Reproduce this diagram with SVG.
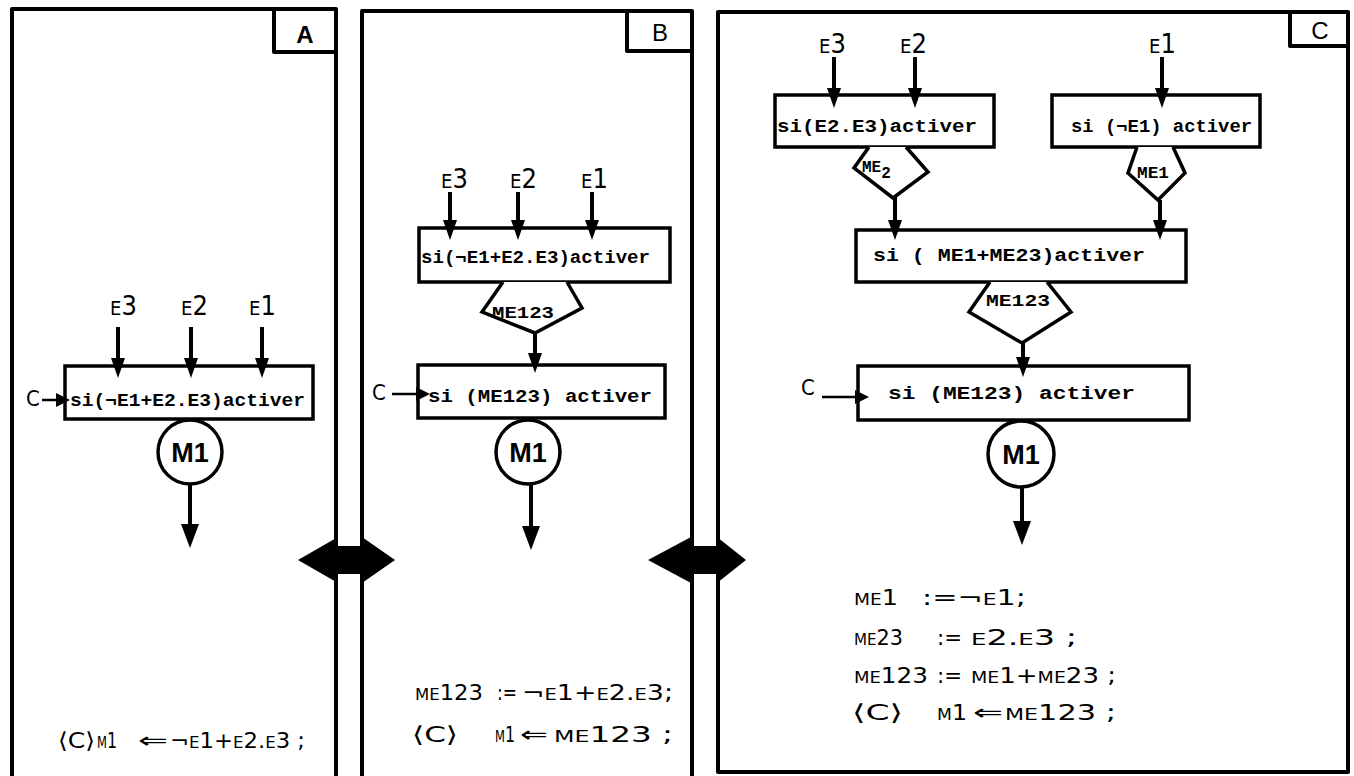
<svg xmlns="http://www.w3.org/2000/svg" width="1354" height="776" viewBox="0 0 1354 776">
  <style>
    .frame { fill: none; stroke: #000; stroke-width: 4; stroke-linejoin: round; }
    .box { fill: #fff; stroke: #000; stroke-width: 3.5; }
    .gate { fill: #fff; stroke: #000; stroke-width: 3.5; stroke-linejoin: miter; }
    .ring { fill: #fff; stroke: #000; stroke-width: 3.5; }
    .wire { fill: none; stroke: #000; stroke-width: 4; }
    .in { marker-end: url(#head); }
    .out { marker-end: url(#headBig); }
    .ctl { fill: none; stroke: #000; stroke-width: 2.5; marker-end: url(#headSmall); }
    .mono { font-family: "Liberation Mono", "DejaVu Sans Mono", monospace; font-weight: bold; font-size: 18px; fill: #000; }
    .tag { font-family: "Liberation Mono", "DejaVu Sans Mono", monospace; font-weight: bold; font-size: 16px; fill: #000; }
    .hand { font-family: "DejaVu Sans Condensed", "DejaVu Sans", sans-serif; font-size: 22px; fill: #000; }
    .sm { font-size: 16px; }
    .inp { font-family: "DejaVu Sans Condensed", "DejaVu Sans", sans-serif; font-size: 27px; fill: #000; }
    .inp .e { font-size: 20px; }
    .lbl { font-family: "Liberation Sans", Arial, sans-serif; font-size: 24px; fill: #000; }
    .motor { font-family: "Liberation Sans", Arial, sans-serif; font-weight: bold; font-size: 27px; fill: #000; text-anchor: middle; }
    .mid { text-anchor: middle; }
  </style>
  <defs>
    <marker id="head" markerUnits="userSpaceOnUse" markerWidth="20" markerHeight="14" refX="2" refY="7" orient="auto">
      <path d="M0,0 L20,7 L0,14 z" fill="#000"/>
    </marker>
    <marker id="headBig" markerUnits="userSpaceOnUse" markerWidth="24" markerHeight="18" refX="2" refY="9" orient="auto">
      <path d="M0,0 L24,9 L0,18 z" fill="#000"/>
    </marker>
    <marker id="headSmall" markerUnits="userSpaceOnUse" markerWidth="14" markerHeight="14" refX="2" refY="7" orient="auto">
      <path d="M0,0 L14,7 L0,14 z" fill="#000"/>
    </marker>
  </defs>

  <rect width="1354" height="776" fill="#fff"/>

  <!-- panel frames -->
  <g id="panel-a">
    <path class="frame" d="M12,780 V9 H336 V780"/>
    <path class="frame" d="M274,9 V52 H336"/>
    <text class="lbl" x="305" y="43" text-anchor="middle" font-weight="bold">A</text>
  </g>
  <g id="panel-b">
    <path class="frame" d="M362,780 V11 H692 V780"/>
    <path class="frame" d="M627,11 V51 H692"/>
    <text class="lbl" x="660" y="41" text-anchor="middle">B</text>
  </g>
  <g id="panel-c">
    <rect class="frame" x="718" y="12" width="630" height="760"/>
    <path class="frame" d="M1290,12 V46 H1348"/>
    <text class="lbl" x="1320" y="39" text-anchor="middle">C</text>
  </g>

  <!-- transitions between panels -->
  <g id="transitions">
    <polygon points="298,560 338,537 338,546 362,546 362,537 395,560 362,583 362,574 338,574 338,583" fill="#000"/>
    <polygon points="648,560 691,537 691,546 717,546 717,537 746,560 717,583 717,574 691,574 691,583" fill="#000"/>
  </g>

  <!-- panel A nodes -->
  <g id="a-inputs">
    <text class="inp" x="110" y="315"><tspan class="e">E</tspan>3</text>
    <text class="inp" x="181" y="315"><tspan class="e">E</tspan>2</text>
    <text class="inp" x="249" y="315"><tspan class="e">E</tspan>1</text>
    <text class="hand" x="26" y="406" font-size="18">C</text>
  </g>
  <g id="a-rule">
    <rect class="box" x="65" y="366" width="248" height="53"/>
    <text class="mono" x="70" y="406" textLength="235" lengthAdjust="spacingAndGlyphs">si(¬E1+E2.E3)activer</text>
  </g>
  <g id="a-motor">
    <circle class="ring" cx="190" cy="452" r="32"/>
    <text class="motor" x="190" y="462">M1</text>
  </g>
  <g id="a-equation">
    <text class="hand" x="58" y="748" textLength="37" lengthAdjust="spacingAndGlyphs">⟨C⟩</text>
    <text class="hand" x="97" y="748" textLength="20" lengthAdjust="spacingAndGlyphs"><tspan class="sm">M</tspan>1</text>
    <text class="hand" x="138" y="748" textLength="30" lengthAdjust="spacingAndGlyphs">⇐</text>
    <text class="hand" x="170" y="748" textLength="135" lengthAdjust="spacingAndGlyphs">¬<tspan class="sm">E</tspan>1+<tspan class="sm">E</tspan>2.<tspan class="sm">E</tspan>3 ;</text>
  </g>

  <!-- panel B nodes -->
  <g id="b-inputs">
    <text class="inp" x="441" y="188"><tspan class="e">E</tspan>3</text>
    <text class="inp" x="510" y="188"><tspan class="e">E</tspan>2</text>
    <text class="inp" x="581" y="188"><tspan class="e">E</tspan>1</text>
    <text class="hand" x="372" y="400" font-size="18">C</text>
  </g>
  <g id="b-rule1">
    <rect class="box" x="419" y="228" width="251" height="54"/>
    <text class="mono" x="421" y="263" textLength="229" lengthAdjust="spacingAndGlyphs">si(¬E1+E2.E3)activer</text>
  </g>
  <g id="b-me123">
    <path class="gate" d="M503,282 L482,312 L535,333 L582,308 L567,282"/>
    <text class="tag" x="492" y="318" textLength="62" lengthAdjust="spacingAndGlyphs">ME123</text>
  </g>
  <g id="b-rule2">
    <rect class="box" x="418" y="365" width="247" height="53"/>
    <text class="mono" x="428" y="402" textLength="224" lengthAdjust="spacingAndGlyphs">si (ME123) activer</text>
  </g>
  <g id="b-motor">
    <circle class="ring" cx="528" cy="452" r="32"/>
    <text class="motor" x="528" y="462">M1</text>
  </g>
  <g id="b-equations">
    <text class="hand" x="415" y="700" textLength="68" lengthAdjust="spacingAndGlyphs"><tspan class="sm">ME</tspan>123</text>
    <text class="hand" x="497" y="700" textLength="20" lengthAdjust="spacingAndGlyphs">:=</text>
    <text class="hand" x="522" y="700" textLength="151" lengthAdjust="spacingAndGlyphs">¬<tspan class="sm">E</tspan>1+<tspan class="sm">E</tspan>2.<tspan class="sm">E</tspan>3;</text>
    <text class="hand" x="412" y="742" textLength="46" lengthAdjust="spacingAndGlyphs">⟨C⟩</text>
    <text class="hand" x="495" y="742" textLength="20" lengthAdjust="spacingAndGlyphs"><tspan class="sm">M</tspan>1</text>
    <text class="hand" x="520" y="742" textLength="28" lengthAdjust="spacingAndGlyphs">⇐</text>
    <text class="hand" x="554" y="742" textLength="119" lengthAdjust="spacingAndGlyphs"><tspan class="sm">ME</tspan>123 ;</text>
  </g>

  <!-- panel C nodes -->
  <g id="c-inputs">
    <text class="inp" x="819" y="53"><tspan class="e">E</tspan>3</text>
    <text class="inp" x="900" y="53"><tspan class="e">E</tspan>2</text>
    <text class="inp" x="1149" y="53"><tspan class="e">E</tspan>1</text>
    <text class="hand" x="801" y="395" font-size="18">C</text>
  </g>
  <g id="c-rule23">
    <rect class="box" x="775" y="95" width="219" height="52"/>
    <text class="mono" x="777" y="132" textLength="200" lengthAdjust="spacingAndGlyphs">si(E2.E3)activer</text>
  </g>
  <g id="c-rule1">
    <rect class="box" x="1052" y="95" width="208" height="52"/>
    <text class="mono" x="1071" y="132" textLength="181" lengthAdjust="spacingAndGlyphs">si (¬E1) activer</text>
  </g>
  <g id="c-me2">
    <path class="gate" d="M869,147 L854,168 L893,198 L928,172 L906,147"/>
    <text class="tag" x="862" y="172">ME<tspan dy="6">2</tspan></text>
  </g>
  <g id="c-me1">
    <path class="gate" d="M1137,147 L1128,173 L1158,200 L1185,173 L1173,147"/>
    <text class="tag mid" x="1153" y="178" textLength="32" lengthAdjust="spacingAndGlyphs">ME1</text>
  </g>
  <g id="c-rule123">
    <rect class="box" x="856" y="230" width="330" height="52"/>
    <text class="mono" x="873" y="261" textLength="272" lengthAdjust="spacingAndGlyphs">si ( ME1+ME23)activer</text>
  </g>
  <g id="c-me123">
    <path class="gate" d="M990,282 L969,312 L1022,343 L1071,312 L1047,282"/>
    <text class="tag" x="986" y="306" textLength="64" lengthAdjust="spacingAndGlyphs">ME123</text>
  </g>
  <g id="c-rule">
    <rect class="box" x="858" y="366" width="331" height="54"/>
    <text class="mono" x="888" y="399" textLength="247" lengthAdjust="spacingAndGlyphs">si (ME123) activer</text>
  </g>
  <g id="c-motor">
    <ellipse class="ring" cx="1021" cy="454" rx="33" ry="33"/>
    <text class="motor" x="1021" y="464">M1</text>
  </g>
  <g id="c-equations">
    <text class="hand" x="854" y="605" textLength="44" lengthAdjust="spacingAndGlyphs"><tspan class="sm">ME</tspan>1</text>
    <text class="hand" x="922" y="605" textLength="104" lengthAdjust="spacingAndGlyphs">:=¬<tspan class="sm">E</tspan>1;</text>
    <text class="hand" x="854" y="645" textLength="49" lengthAdjust="spacingAndGlyphs"><tspan class="sm">ME</tspan>23</text>
    <text class="hand" x="937" y="645" textLength="25" lengthAdjust="spacingAndGlyphs">:=</text>
    <text class="hand" x="971" y="645" textLength="106" lengthAdjust="spacingAndGlyphs"><tspan class="sm">E</tspan>2.<tspan class="sm">E</tspan>3 ;</text>
    <text class="hand" x="854" y="683" textLength="74" lengthAdjust="spacingAndGlyphs"><tspan class="sm">ME</tspan>123</text>
    <text class="hand" x="937" y="683" textLength="25" lengthAdjust="spacingAndGlyphs">:=</text>
    <text class="hand" x="971" y="683" textLength="145" lengthAdjust="spacingAndGlyphs"><tspan class="sm">ME</tspan>1+<tspan class="sm">ME</tspan>23 ;</text>
    <text class="hand" x="852" y="720" textLength="51" lengthAdjust="spacingAndGlyphs">⟨C⟩</text>
    <text class="hand" x="937" y="720" textLength="30" lengthAdjust="spacingAndGlyphs"><tspan class="sm">M</tspan>1</text>
    <text class="hand" x="973" y="720" textLength="30" lengthAdjust="spacingAndGlyphs">⇐</text>
    <text class="hand" x="1005" y="720" textLength="111" lengthAdjust="spacingAndGlyphs"><tspan class="sm">ME</tspan>123 ;</text>
  </g>

  <!-- connectors, drawn over the boxes so the heads sit on the edges -->
  <g id="connectors">
    <!-- panel A -->
    <line class="wire in" x1="118" y1="327" x2="118" y2="360"/>
    <line class="wire in" x1="191" y1="327" x2="191" y2="360"/>
    <line class="wire in" x1="262" y1="327" x2="262" y2="360"/>
    <line class="ctl" x1="42" y1="400" x2="58" y2="400"/>
    <line class="wire out" x1="190" y1="484" x2="190" y2="526"/>
    <!-- panel B -->
    <line class="wire in" x1="450" y1="192" x2="450" y2="222"/>
    <line class="wire in" x1="518" y1="192" x2="518" y2="222"/>
    <line class="wire in" x1="592" y1="192" x2="592" y2="222"/>
    <line class="wire in" x1="535" y1="333" x2="535" y2="355"/>
    <line class="ctl" x1="392" y1="394" x2="418" y2="394"/>
    <line class="wire out" x1="531" y1="484" x2="531" y2="528"/>
    <!-- panel C -->
    <line class="wire in" x1="834" y1="57" x2="834" y2="90"/>
    <line class="wire in" x1="915" y1="57" x2="915" y2="90"/>
    <line class="wire in" x1="1162" y1="57" x2="1162" y2="90"/>
    <line class="wire in" x1="895" y1="197" x2="895" y2="222"/>
    <line class="wire in" x1="1160" y1="200" x2="1160" y2="222"/>
    <line class="wire in" x1="1023" y1="343" x2="1023" y2="359"/>
    <line class="ctl" x1="822" y1="397" x2="857" y2="397"/>
    <line class="wire out" x1="1022" y1="487" x2="1022" y2="523"/>
  </g>
</svg>
